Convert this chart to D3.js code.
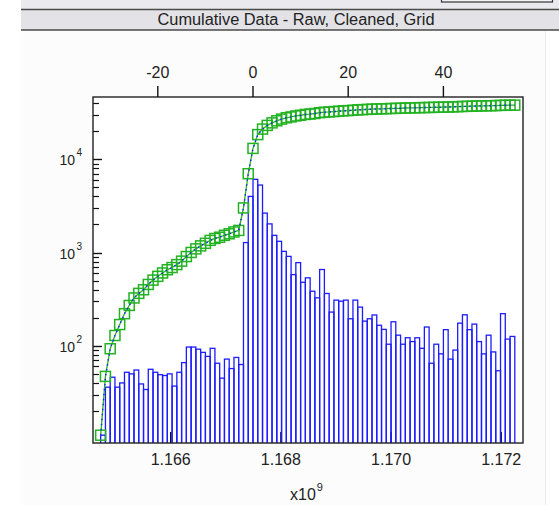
<!DOCTYPE html>
<html><head><meta charset="utf-8">
<script src="https://cdn.jsdelivr.net/npm/d3@7"></script>
<style>html,body{margin:0;padding:0;background:#fff;overflow:hidden}</style>
</head><body>
<svg id="c" width="559" height="505"></svg>
<script>
// ---- data ----
const titleText = "Cumulative Data - Raw, Cleaned, Grid";
// histogram bins: start day (top axis units) and counts
const binDay = [-32,-31,-30,-29,-28,-27,-26,-25,-24,-23,-22,-21,-20,-19,-18,-17,-16,-15,-14,-13,-12,-11,-10,-9,-8,-7,-6,-5,-4,-3,
  -2,-1,0,1,2,3,4,5,6,7,8,9,10,11,12,13,14,15,16,17,18,19,20,21,22,23,24,25,26,27,28,29,30,31,32,33,34,35,36,37,38,39,40,41,42,43,44,45,46,47,48,49,50,51,52,53,54];
const counts = [11,36,46,36,40,52,50,55,39,34,56,52,49,48,50,37,52,66,97,97,92,85,77,94,65,45,72,57,75,63,
  1280,4000,6100,5300,2650,2030,1530,1320,1030,910,580,780,
  480,536,385,327,658,364,230,309,301,309,
  195,309,260,184,195,214,166,150,104,181,
  130,104,122,111,122,94,159,65,104,82,
  149,72,90,175,215,149,171,111,82,130,
  86,54,221,118,126];
// cumulative series (grid points, square markers)
const cumDay = [-32,-31,-30,-29,-28,-27,-26,-25,-24,-23,-22,-21,-20,-19,-18,-17,-16,-15,-14,-13,-12,-11,-10,-9,-8,-7,-6,-5,-4,-3,
  -2,-1,0,1,2,3,4,5,6,7,8,9,10,11,12,13,14,15,16,17,18,19,20,21,22,23,24,25,26,27,28,29,30,31,32,33,34,35,36,37,38,39,40,41,42,43,44,45,46,47,48,49,50,51,52,53,54,55];
const cumulative = [11,47,93,129,169,221,271,326,365,399,455,507,556,604,654,691,743,809,906,1003,1095,1180,1257,1351,1416,1461,1533,1590,1665,1728,
  3010,7010,13100,18400,21100,23100,24600,25900,27000,27900,28500,29200,
  29700,30300,30600,31000,31600,32000,32200,32500,32800,33100,
  33300,33600,33900,34100,34300,34500,34700,34800,34900,35100,
  35200,35300,35500,35600,35700,35800,35900,36000,36100,36200,
  36300,36400,36500,36700,36900,37000,37200,37300,37400,37500,
  37600,37700,37900,38000,38100,38100];
const topTicks = [-20, 0, 20, 40];
const bottomTicks = [1.166e9, 1.168e9, 1.170e9, 1.172e9];
const yDecades = [100, 1000, 10000];
const yMinorMults = [2,3,4,5,6,7,8,9];
const yMinorBases = [10, 100, 1000, 10000];

// ---- layout ----
const L = 93, R = 523, T = 97, B = 443;
const pxPerDay = 4.76, zeroX = 253, secPerDay = 86400;
const svg = d3.select("#c");
const FONT = "Arial, 'Liberation Sans', sans-serif";

const x = d3.scaleLinear().domain([(L - zeroX) / pxPerDay, (R - zeroX) / pxPerDay]).range([L, R]);
const tZero = 1.166e9 + ((zeroX - 170.7) / pxPerDay) * secPerDay;
const xt = d3.scaleLinear().domain(x.domain().map(d => tZero + d * secPerDay)).range([L, R]);
const y = d3.scaleLog().domain([9.07, 46600]).range([B, T]);

// ---- window chrome ----
svg.append("rect").attr("x", 0).attr("y", 0).attr("width", 559).attr("height", 505).attr("fill", "#ffffff");
svg.append("rect").attr("x", 21).attr("y", 0).attr("width", 538).attr("height", 9).attr("fill", "#eaeaee");
svg.append("rect").attr("x", 441.5).attr("y", -4).attr("width", 111).attr("height", 6).attr("fill", "#f4f4f6").attr("stroke", "#333").attr("stroke-width", 1.2);
svg.append("rect").attr("x", 21).attr("y", 10).attr("width", 538).attr("height", 20).attr("fill", "#e3e3e7");
svg.append("line").attr("x1", 21).attr("x2", 559).attr("y1", 9.5).attr("y2", 9.5).attr("stroke", "#4a4a4a").attr("stroke-width", 1.5);
svg.append("line").attr("x1", 21).attr("x2", 559).attr("y1", 30).attr("y2", 30).attr("stroke", "#4a4a4a").attr("stroke-width", 1.5);
svg.append("rect").attr("x", 21).attr("y", 31).attr("width", 524).attr("height", 474).attr("fill", "#fcfcfc");
svg.append("line").attr("x1", 545.5).attr("x2", 545.5).attr("y1", 31).attr("y2", 505).attr("stroke", "#ececec").attr("stroke-width", 1);

svg.append("text").attr("x", 296).attr("y", 25).attr("text-anchor", "middle")
  .attr("font-family", FONT).attr("font-size", 16).attr("fill", "#222")
  .attr("textLength", 277).attr("lengthAdjust", "spacingAndGlyphs").text(titleText);

// plot area background
svg.append("rect").attr("x", L).attr("y", T).attr("width", R - L).attr("height", B - T).attr("fill", "#ffffff");

// ---- axes ticks (drawn under marks) ----
const g = svg.append("g");
// bottom ticks (inward)
g.selectAll("line.bt").data(bottomTicks).join("line")
  .attr("x1", d => xt(d)).attr("x2", d => xt(d)).attr("y1", B).attr("y2", B - 11)
  .attr("stroke", "#111").attr("stroke-width", 1.4);
// left ticks (inward)
const minorVals = [];
yMinorBases.forEach(b => yMinorMults.forEach(m => { const v = b * m; if (v > y.domain()[0] && v < y.domain()[1]) minorVals.push(v); }));
g.selectAll("line.ym").data(minorVals).join("line")
  .attr("x1", L).attr("x2", L + 6).attr("y1", d => Math.round(y(d)) + 0.5).attr("y2", d => Math.round(y(d)) + 0.5)
  .attr("stroke", "#111").attr("stroke-width", 1.2);
g.selectAll("line.yM").data(yDecades).join("line")
  .attr("x1", L).attr("x2", L + 9).attr("y1", d => Math.round(y(d)) + 0.5).attr("y2", d => Math.round(y(d)) + 0.5)
  .attr("stroke", "#111").attr("stroke-width", 1.4);

// ---- marks ----
svg.append("clipPath").attr("id", "pc").append("rect").attr("x", L).attr("y", T).attr("width", R - L).attr("height", B - T);
const pg = svg.append("g").attr("clip-path", "url(#pc)");

const bars = binDay.map((d, i) => ({ d, v: counts[i] }));
pg.selectAll("rect.bar").data(bars).join("rect")
  .attr("x", b => x(b.d)).attr("width", b => x(b.d + 1) - x(b.d))
  .attr("y", b => y(b.v)).attr("height", b => B + 2 - y(b.v))
  .attr("fill", "none").attr("stroke", "#1c1cff").attr("stroke-width", 1.3);

const pts = cumDay.map((d, i) => ({ d, v: cumulative[i] }));
const line = d3.line().x(p => x(p.d)).y(p => y(p.v));
pg.append("path").datum(pts).attr("d", line).attr("fill", "none").attr("stroke", "#27b327").attr("stroke-width", 1.3);
pg.selectAll("rect.sq").data(pts).join("rect")
  .attr("x", p => x(p.d) - 5).attr("y", p => y(p.v) - 5).attr("width", 10).attr("height", 10)
  .attr("fill", "none").attr("stroke", "#22b222").attr("stroke-width", 1.5);
pg.append("path").datum(pts).attr("d", line).attr("fill", "none").attr("stroke", "#2020ff")
  .attr("stroke-width", 1.4).attr("stroke-dasharray", "1.5,3.5");

// ---- frame ----
svg.append("rect").attr("x", L).attr("y", T).attr("width", R - L).attr("height", B - T)
  .attr("fill", "none").attr("stroke", "#222").attr("stroke-width", 1.4);

// top axis ticks (outward) + labels
svg.selectAll("line.tt").data(topTicks).join("line")
  .attr("x1", d => x(d)).attr("x2", d => x(d)).attr("y1", T).attr("y2", T - 11)
  .attr("stroke", "#111").attr("stroke-width", 1.4);
svg.selectAll("text.tl").data(topTicks).join("text")
  .attr("x", d => x(d)).attr("y", 78).attr("text-anchor", "middle")
  .attr("font-family", FONT).attr("font-size", 16).attr("fill", "#222").text(d => String(d));

// bottom labels
svg.selectAll("text.bl").data(bottomTicks).join("text")
  .attr("x", d => xt(d)).attr("y", 465).attr("text-anchor", "middle")
  .attr("font-family", FONT).attr("font-size", 16).attr("fill", "#222").text(d => (d / 1e9).toFixed(3));
const xl = svg.append("text").attr("x", 290).attr("y", 500).attr("font-family", FONT).attr("font-size", 16).attr("fill", "#222");
xl.append("tspan").text("x10");
xl.append("tspan").attr("font-size", 11).attr("dy", -9).attr("dx", 1).text("9");

// left labels
svg.selectAll("text.yl").data(yDecades).join("text")
  .attr("x", 75).attr("y", d => y(d) + 6).attr("text-anchor", "end")
  .attr("font-family", FONT).attr("font-size", 14).attr("fill", "#222").text("10");
svg.selectAll("text.ye").data(yDecades).join("text")
  .attr("x", 76.5).attr("y", d => y(d) - 3).attr("font-family", FONT).attr("font-size", 10).attr("fill", "#222")
  .text(d => String(Math.round(Math.log10(d))));
</script>
</body></html>
